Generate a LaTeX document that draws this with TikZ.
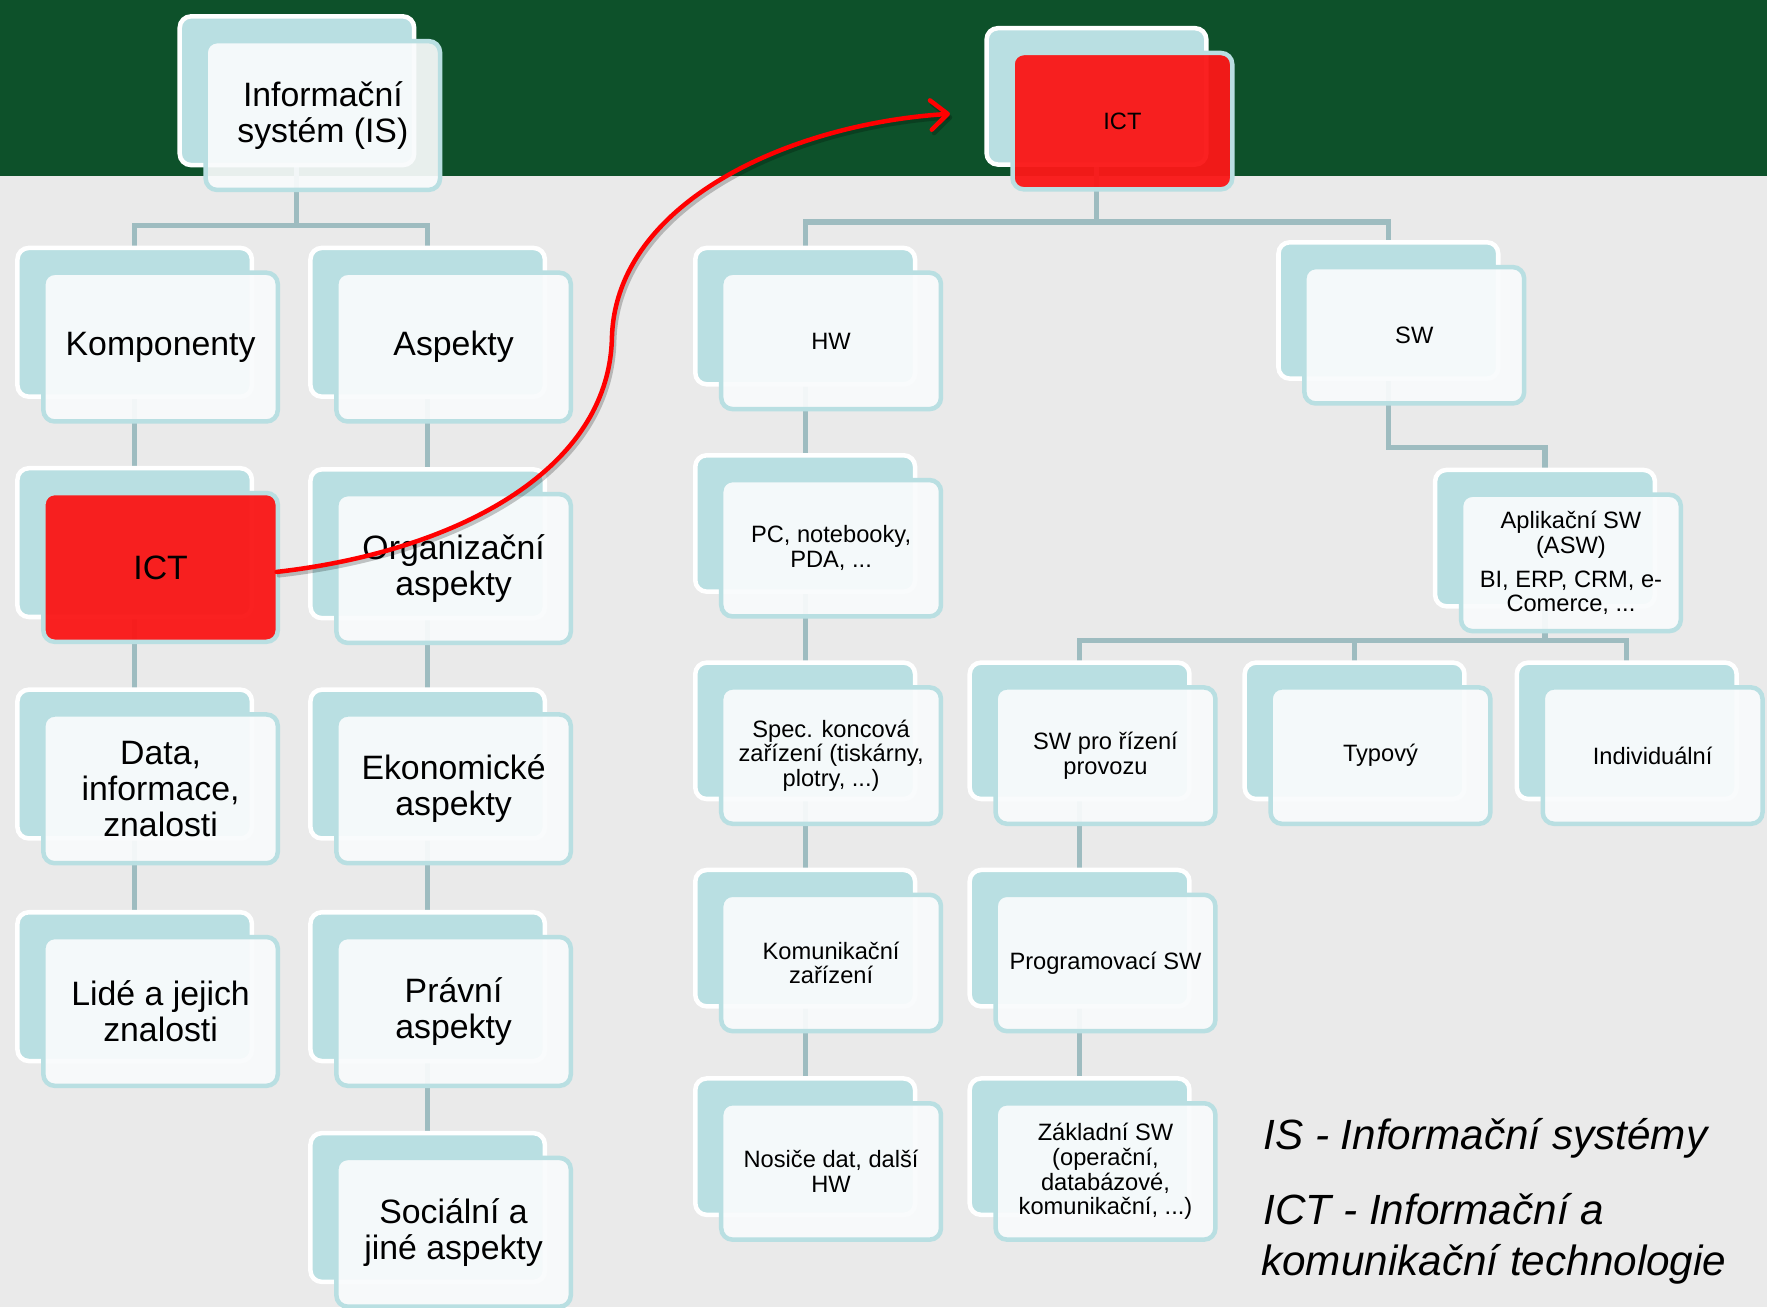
\documentclass[tikz,border=0pt]{standalone}
\usepackage{fontspec}
\setmainfont{Liberation Sans}
\usetikzlibrary{arrows.meta,calc}
\definecolor{bggray}{RGB}{234,234,234}
\definecolor{topgreen}{RGB}{13,81,42}
\definecolor{lblue}{RGB}{185,223,226}
\definecolor{frontfill}{RGB}{249,251,252}
\definecolor{conncol}{RGB}{158,188,192}
\definecolor{boxred}{RGB}{250,24,24}
\definecolor{arrred}{RGB}{255,0,0}
\pgfdeclarelayer{bg}
\pgfsetlayers{bg,main}
\tikzset{
 backbox/.style={draw=white, line width=4pt, fill=lblue, rounded corners=10pt, inner sep=0pt},
 frontbox/.style={draw=lblue, line width=4pt, fill=frontfill, fill opacity=0.93, draw opacity=1, text opacity=1,
   rounded corners=10pt, inner sep=2pt, align=center, text=black},
 big/.style={minimum width=208pt, minimum height=132pt, font=\fontsize{30}{32}\selectfont},
 small/.style={minimum width=195pt, minimum height=121pt, font=\fontsize{21}{22}\selectfont},
 redfront/.style={fill=boxred, fill opacity=0.96},
 conn/.style={draw=conncol, line width=4.5pt},
 legendtext/.style={anchor=base west, inner sep=0pt, font=\fontsize{37.5}{44}\selectfont\itshape},
 redarrow/.style={draw=arrred, line width=4pt, line cap=round,
   -{Straight Barb[length=15pt,width=26pt,line cap=round,line join=round]}},
}
\newcommand\smartbox[6]{%
  \node[backbox,#4] (#1B) at ({#2-23},{#3-22}) {};
  \node[frontbox,#4,#5] (#1) at (#2,#3) {#6};
}
\begin{document}
\begin{tikzpicture}[x=1pt,y=-1pt]
\useasboundingbox (0,0) rectangle (1568,1160);
\begin{pgfonlayer}{bg}
  \fill[bggray] (0,0) rectangle (1568,1160);
  \fill[topgreen] (0,0) rectangle (1568,156);
\end{pgfonlayer}

% ---------- left tree ----------
\smartbox{is}{286.5}{102.5}{big}{}{Informační\\systém (IS)}
\smartbox{komp}{142.5}{308}{big}{}{Komponenty}
\smartbox{ictL}{142.5}{503.5}{big}{redfront}{ICT}
\smartbox{data}{142.5}{700}{big}{}{Data,\\informace,\\znalosti}
\smartbox{lide}{142.5}{897.5}{big}{}{Lidé a jejich\\znalosti}
\smartbox{asp}{402.5}{308}{big}{}{Aspekty}
\smartbox{org}{402.5}{504.5}{big}{}{Organizační\\aspekty}
\smartbox{eko}{402.5}{700}{big}{}{Ekonomické\\aspekty}
\smartbox{prav}{402.5}{897.5}{big}{}{Právní\\aspekty}
\smartbox{soc}{402.5}{1093.5}{big}{}{Sociální a\\jiné aspekty}

% ---------- right tree ----------
\smartbox{ictR}{996}{107.5}{small}{redfront}{ICT}
\smartbox{hw}{737.5}{302.5}{small}{}{HW}
\smartbox{pc}{737.5}{486.5}{small}{}{PC, notebooky,\\PDA, ...}
\smartbox{spec}{737.5}{670.5}{small}{}{Spec. koncová\\zařízení (tiskárny,\\plotry, ...)}
\smartbox{kom}{737.5}{854.5}{small}{}{Komunikační\\zařízení}
\smartbox{nos}{737.5}{1039.5}{small}{}{Nosiče dat, další\\HW}
\smartbox{sw}{1255}{297.5}{small}{}{SW}
\smartbox{asw}{1394}{499.5}{small}{}{Aplikační SW\\(ASW)\\[8pt]BI, ERP, CRM, e-\\Comerce, ...}
\smartbox{spr}{981}{670.5}{small}{}{SW pro řízení\\provozu}
\smartbox{typ}{1225}{670.5}{small}{}{Typový}
\smartbox{ind}{1466.5}{670.5}{small}{}{Individuální}
\smartbox{prog}{981}{854.5}{small}{}{Programovací SW}
\smartbox{zak}{981}{1039.5}{small}{}{Základní SW\\(operační,\\databázové,\\komunikační, ...)}

% ---------- connectors (behind boxes) ----------
\begin{pgfonlayer}{bg}
  \draw[conn] (isB.center) -- ++(0,120) -| (kompB.center);
  \draw[conn] (isB.center) -- ++(0,120) -| (aspB.center);
  \draw[conn] (kompB.center) -- (ictLB.center) -- (dataB.center) -- (lideB.center);
  \draw[conn] (aspB.center) -- (orgB.center) -- (ekoB.center) -- (pravB.center) -- (socB.center);
  \draw[conn] (ictRB.center) -- ++(0,111.5) -| (hwB.center);
  \draw[conn] (ictRB.center) -- ++(0,111.5) -| (swB.center);
  \draw[conn] (hwB.center) -- (pcB.center) -- (specB.center) -- (komB.center) -- (nosB.center);
  \draw[conn] (swB.center) -- ++(0,121.5) -| (aswB.center);
  \draw[conn] (aswB.center) -- ++(0,90.5) -| (sprB.center);
  \draw[conn] (aswB.center) -- ++(0,90.5) -| (typB.center);
  \draw[conn] (aswB.center) -- ++(0,90.5) -| (indB.center);
  \draw[conn] (sprB.center) -- (progB.center) -- (zakB.center);
\end{pgfonlayer}

% ---------- red arrow ----------
\coordinate (arrStart) at ($(ictL.east)+(-3,4)$);
\coordinate (arrEnd) at (843,101);
\begin{scope}[transform canvas={xshift=2pt,yshift=-3pt}]
  \draw[redarrow, draw=black, draw opacity=0.22] (arrStart) .. controls (400,490) and (540,420) .. (543,300)
     .. controls (546,180) and (700,110) .. (arrEnd);
\end{scope}
\draw[redarrow] (arrStart) .. controls (400,490) and (540,420) .. (543,300)
     .. controls (546,180) and (700,110) .. (arrEnd);

% ---------- legend ----------
\node[legendtext] (leg1) at (1121,1020) {IS - Informační systémy};
\node[legendtext] (leg2) at (1121,1087) {ICT - Informační a};
\node[legendtext] (leg3) at (1119,1132) {komunikační technologie};
\end{tikzpicture}
\end{document}
